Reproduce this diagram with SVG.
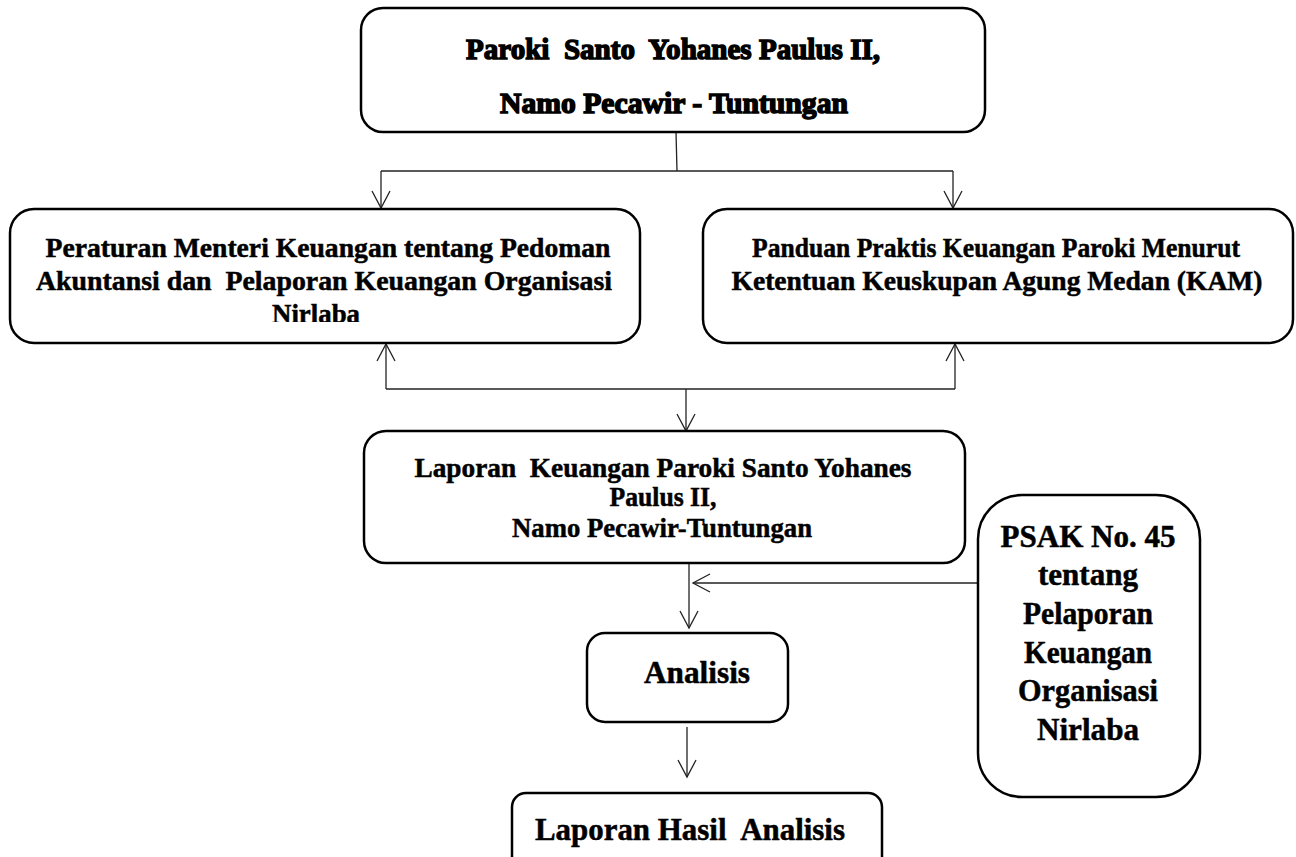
<svg xmlns="http://www.w3.org/2000/svg" width="1296" height="857" viewBox="0 0 1296 857">
<defs>
<style>
.box{fill:#fff;stroke:#000;stroke-width:2.5}
.ln{fill:none;stroke:#222;stroke-width:1.3}
.t{font-family:"Liberation Serif","Times New Roman",serif;font-weight:bold;fill:#000;text-anchor:middle;stroke:#000;stroke-width:0.5;white-space:pre}
.tb{font-family:"Liberation Serif","Times New Roman",serif;font-weight:bold;fill:#000;text-anchor:middle;stroke:#000;stroke-width:1.5;white-space:pre}
</style>
<marker id="ah" viewBox="0 0 20 20" refX="18" refY="10" markerWidth="20" markerHeight="20" markerUnits="userSpaceOnUse" orient="auto">
<path d="M1,1 L18,10 L1,19" fill="none" stroke="#222" stroke-width="1.3"/>
</marker>
<clipPath id="clipL"><rect x="0" y="200" width="700" height="122"/></clipPath>
</defs>
<g id="connectors">
<line class="ln" x1="676" y1="132" x2="677" y2="171"/>
<line class="ln" x1="381" y1="171" x2="953" y2="171"/>
<line class="ln" x1="381" y1="171" x2="381" y2="208" marker-end="url(#ah)"/>
<line class="ln" x1="953" y1="171" x2="953" y2="208" marker-end="url(#ah)"/>
<line class="ln" x1="386" y1="389" x2="955" y2="389"/>
<line class="ln" x1="386" y1="389" x2="386" y2="344" marker-end="url(#ah)"/>
<line class="ln" x1="955" y1="389" x2="955" y2="344" marker-end="url(#ah)"/>
<line class="ln" x1="686" y1="389" x2="686" y2="431" marker-end="url(#ah)"/>
<line class="ln" x1="689" y1="564" x2="689" y2="628" marker-end="url(#ah)"/>
<line class="ln" x1="980" y1="583" x2="693" y2="583" marker-end="url(#ah)"/>
<line class="ln" x1="687" y1="727" x2="687" y2="777" marker-end="url(#ah)"/>
</g>
<g id="node-paroki">
<rect class="box" x="361" y="8" width="624" height="124" rx="22"/>
<text class="tb" x="673" y="59" font-size="30" textLength="414" lengthAdjust="spacingAndGlyphs">Paroki  Santo  Yohanes Paulus II,</text>
<text class="tb" x="674" y="113" font-size="30" textLength="348" lengthAdjust="spacingAndGlyphs">Namo Pecawir - Tuntungan</text>
</g>
<g id="node-pmk">
<rect class="box" x="10" y="209" width="630" height="134" rx="24"/>
<text class="t" x="328" y="257" font-size="28" textLength="565" lengthAdjust="spacingAndGlyphs">Peraturan Menteri Keuangan tentang Pedoman</text>
<text class="t" x="324" y="290" font-size="28" textLength="576" lengthAdjust="spacingAndGlyphs">Akuntansi dan  Pelaporan Keuangan Organisasi</text>
<text class="t" x="316" y="323" font-size="28" textLength="88" lengthAdjust="spacingAndGlyphs" clip-path="url(#clipL)">Nirlaba</text>
</g>
<g id="node-kam">
<rect class="box" x="703" y="209" width="590" height="134" rx="24"/>
<text class="t" x="996" y="257" font-size="28" textLength="488" lengthAdjust="spacingAndGlyphs">Panduan Praktis Keuangan Paroki Menurut</text>
<text class="t" x="997" y="290" font-size="28" textLength="531" lengthAdjust="spacingAndGlyphs">Ketentuan Keuskupan Agung Medan (KAM)</text>
</g>
<g id="node-laporan">
<rect class="box" x="364" y="431" width="601" height="132" rx="22"/>
<text class="t" x="663" y="477" font-size="28" textLength="497" lengthAdjust="spacingAndGlyphs">Laporan  Keuangan Paroki Santo Yohanes</text>
<text class="t" x="663" y="506" font-size="28" textLength="107" lengthAdjust="spacingAndGlyphs">Paulus II,</text>
<text class="t" x="662" y="537" font-size="28" textLength="300" lengthAdjust="spacingAndGlyphs">Namo Pecawir-Tuntungan</text>
</g>
<g id="node-psak">
<rect class="box" x="978" y="495" width="222" height="302" rx="44"/>
<text class="t" x="1088" y="547" font-size="32" textLength="175" lengthAdjust="spacingAndGlyphs">PSAK No. 45</text>
<text class="t" x="1088" y="585" font-size="32" textLength="100" lengthAdjust="spacingAndGlyphs">tentang</text>
<text class="t" x="1088" y="624" font-size="32" textLength="130" lengthAdjust="spacingAndGlyphs">Pelaporan</text>
<text class="t" x="1088" y="663" font-size="32" textLength="128" lengthAdjust="spacingAndGlyphs">Keuangan</text>
<text class="t" x="1088" y="701" font-size="32" textLength="140" lengthAdjust="spacingAndGlyphs">Organisasi</text>
<text class="t" x="1088" y="740" font-size="32" textLength="102" lengthAdjust="spacingAndGlyphs">Nirlaba</text>
</g>
<g id="node-analisis">
<rect class="box" x="587" y="633" width="201" height="89" rx="18"/>
<text class="t" x="697" y="683" font-size="31" textLength="106" lengthAdjust="spacingAndGlyphs">Analisis</text>
</g>
<g id="node-hasil">
<rect class="box" x="512" y="793" width="370" height="80" rx="14"/>
<text class="t" x="690" y="840" font-size="31" textLength="310" lengthAdjust="spacingAndGlyphs">Laporan Hasil  Analisis</text>
</g>
</svg>
